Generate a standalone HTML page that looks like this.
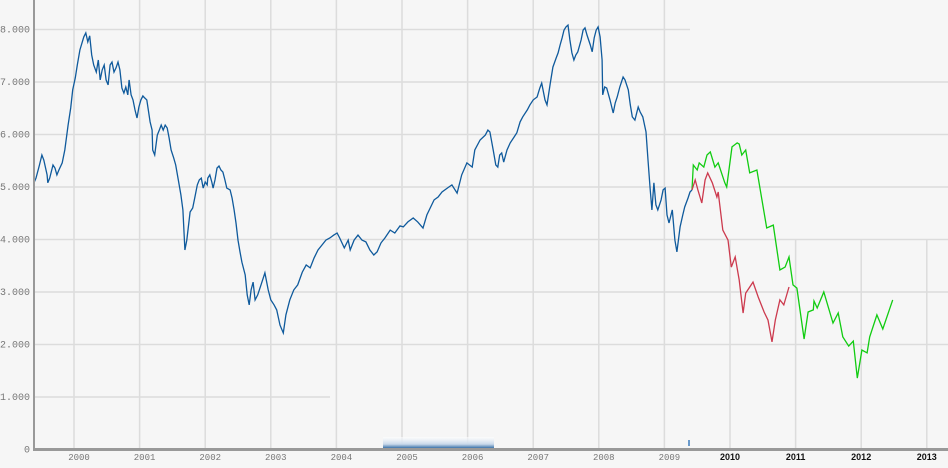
<!DOCTYPE html>
<html><head><meta charset="utf-8">
<style>
html,body{margin:0;padding:0;background:#f6f6f6;}
svg{display:block;}
.yl{font-family:"Liberation Mono",monospace;font-size:10px;fill:#777;}
.xl{font-family:"Liberation Mono",monospace;font-size:9px;fill:#777;}
.xb{font-family:"Liberation Sans",sans-serif;font-size:9px;font-weight:bold;fill:#111;}
</style></head>
<body>
<svg id="chart" width="948" height="468" viewBox="0 0 948 468">
<defs><linearGradient id="bg" x1="0" y1="0" x2="0" y2="1"><stop offset="0" stop-color="#ffffff" stop-opacity="0.6"/><stop offset="0.6" stop-color="#c8d8ea" stop-opacity="1"/><stop offset="1" stop-color="#1a5a9a" stop-opacity="1"/></linearGradient></defs>
<rect x="0" y="0" width="948" height="468" fill="#f6f6f6"/>
<g id="grid"></g>
<g id="labels"></g>
<rect x="383" y="437" width="111" height="12" fill="url(#bg)"/>
<rect x="688" y="440" width="2" height="6" fill="#6a9acb"/>
<g id="series"></g>
<line x1="34" y1="0" x2="34" y2="450" stroke="#999" stroke-width="2"/>
<line x1="33" y1="449.5" x2="948" y2="449.5" stroke="#999" stroke-width="3"/>
</svg>
<script>
const yTicks=[0,1000,2000,3000,4000,5000,6000,7000,8000];
const yTickLabels=["0","1.000","2.000","3.000","4.000","5.000","6.000","7.000","8.000"];
const xTicks=[2000,2001,2002,2003,2004,2005,2006,2007,2008,2009,2010,2011,2012,2013];
const blueYears=[1999.39,1999.42,1999.47,1999.51,1999.54,1999.59,1999.60,1999.63,1999.68,1999.71,1999.74,1999.77,1999.82,1999.86,1999.91,1999.95,1999.98,2000.02,2000.05,2000.09,2000.15,2000.18,2000.21,2000.24,2000.27,2000.30,2000.34,2000.37,2000.40,2000.43,2000.46,2000.49,2000.52,2000.55,2000.58,2000.61,2000.64,2000.67,2000.70,2000.73,2000.76,2000.79,2000.82,2000.84,2000.87,2000.90,2000.93,2000.96,2000.99,2001.02,2001.05,2001.08,2001.11,2001.16,2001.19,2001.20,2001.23,2001.27,2001.30,2001.33,2001.36,2001.39,2001.42,2001.45,2001.48,2001.52,2001.55,2001.59,2001.63,2001.66,2001.69,2001.72,2001.77,2001.81,2001.84,2001.88,2001.91,2001.94,2001.97,2002.00,2002.03,2002.04,2002.07,2002.10,2002.12,2002.15,2002.18,2002.21,2002.24,2002.27,2002.30,2002.33,2002.38,2002.41,2002.44,2002.47,2002.50,2002.53,2002.56,2002.61,2002.64,2002.67,2002.70,2002.73,2002.76,2002.80,2002.85,2002.91,2002.96,2003.00,2003.05,2003.09,2003.14,2003.19,2003.23,2003.29,2003.35,2003.41,2003.48,2003.54,2003.60,2003.66,2003.72,2003.78,2003.84,2003.90,2003.96,2004.01,2004.05,2004.12,2004.18,2004.21,2004.27,2004.33,2004.39,2004.45,2004.51,2004.57,2004.62,2004.68,2004.74,2004.82,2004.89,2004.97,2005.02,2005.09,2005.17,2005.24,2005.32,2005.38,2005.43,2005.49,2005.55,2005.61,2005.69,2005.76,2005.84,2005.91,2005.99,2006.07,2006.11,2006.19,2006.27,2006.31,2006.34,2006.39,2006.43,2006.46,2006.49,2006.52,2006.55,2006.60,2006.65,2006.71,2006.75,2006.80,2006.84,2006.91,2006.95,2007.00,2007.06,2007.10,2007.13,2007.18,2007.21,2007.26,2007.30,2007.35,2007.38,2007.41,2007.44,2007.47,2007.50,2007.53,2007.56,2007.59,2007.62,2007.65,2007.68,2007.73,2007.76,2007.79,2007.82,2007.87,2007.90,2007.93,2007.96,2007.99,2008.02,2008.05,2008.06,2008.09,2008.12,2008.17,2008.22,2008.25,2008.28,2008.32,2008.37,2008.40,2008.45,2008.48,2008.51,2008.55,2008.60,2008.63,2008.67,2008.72,2008.75,2008.78,2008.81,2008.84,2008.87,2008.90,2008.95,2008.98,2009.01,2009.04,2009.07,2009.12,2009.16,2009.19,2009.24,2009.28,2009.31,2009.36,2009.39,2009.42];
const blueValues=[5070,5160,5390,5600,5505,5220,5070,5160,5410,5350,5220,5315,5450,5695,6170,6495,6840,7070,7315,7600,7850,7925,7755,7870,7505,7315,7180,7410,7030,7220,7315,7030,6935,7315,7370,7180,7260,7370,7220,6875,6780,6895,6745,7030,6745,6650,6460,6305,6515,6650,6725,6685,6650,6230,6075,5695,5600,5980,6075,6170,6075,6170,6115,5925,5695,5545,5410,5125,4840,4555,3790,3980,4515,4590,4780,5030,5125,5160,4970,5085,5030,5160,5220,5085,4970,5125,5350,5390,5315,5275,5125,4970,4935,4780,4555,4305,3980,3755,3560,3315,2935,2745,3030,3180,2840,2935,3125,3355,3030,2840,2745,2650,2360,2210,2555,2840,3030,3125,3370,3505,3450,3640,3790,3885,3980,4020,4075,4115,4020,3830,3980,3790,3980,4075,3980,3945,3790,3695,3755,3925,4020,4170,4115,4250,4230,4325,4400,4325,4210,4460,4590,4745,4800,4895,4970,5030,4875,5220,5450,5370,5695,5885,5980,6075,6040,5695,5410,5370,5600,5640,5465,5695,5830,5945,6020,6230,6325,6460,6555,6650,6705,6875,6970,6650,6555,6970,7275,7450,7545,7695,7830,7980,8040,8075,7790,7545,7410,7505,7565,7790,7980,8020,7885,7695,7565,7830,7980,8040,7850,7410,6745,6895,6875,6650,6400,6590,6705,6895,7085,7030,6840,6555,6325,6265,6515,6420,6325,6040,5505,4990,4555,5070,4650,4555,4745,4935,4970,4460,4305,4555,3980,3755,4230,4460,4610,4780,4895,4935];
const greenYears=[2009.42,2009.44,2009.50,2009.53,2009.60,2009.65,2009.70,2009.77,2009.82,2009.92,2009.95,2010.03,2010.11,2010.14,2010.18,2010.24,2010.30,2010.41,2010.56,2010.66,2010.76,2010.84,2010.90,2010.96,2011.02,2011.13,2011.19,2011.27,2011.28,2011.33,2011.43,2011.57,2011.65,2011.72,2011.81,2011.88,2011.94,2012.01,2012.09,2012.13,2012.24,2012.33,2012.48];
const greenValues=[4935,5410,5315,5450,5370,5600,5660,5370,5450,5070,4990,5755,5830,5810,5600,5695,5260,5315,4210,4265,3410,3465,3660,3125,3065,2095,2610,2650,2820,2685,2990,2400,2590,2135,1960,2055,1350,1885,1830,2135,2555,2285,2840];
const redYears=[2009.42,2009.47,2009.51,2009.57,2009.62,2009.66,2009.73,2009.80,2009.82,2009.89,2009.97,2010.02,2010.08,2010.14,2010.20,2010.24,2010.35,2010.43,2010.52,2010.58,2010.64,2010.69,2010.76,2010.82,2010.90];
const redValues=[4935,5125,4935,4685,5125,5260,5070,4800,4895,4170,3980,3465,3660,3220,2590,2970,3180,2895,2610,2455,2040,2455,2840,2745,3085];

const NS="http://www.w3.org/2000/svg";
function xScale(yr){return 74+(yr-2000)*65.6;}
function yScale(v){return 449-v*0.0525;}
function mk(tag,attrs,parent){const e=document.createElementNS(NS,tag);for(const k in attrs)e.setAttribute(k,attrs[k]);parent.appendChild(e);return e;}
const grid=document.getElementById('grid'),labels=document.getElementById('labels'),series=document.getElementById('series');

yTicks.forEach((v,i)=>{
  if(v===0)return;
  let x2=948;
  if(v===8000)x2=690;
  if(v===1000)x2=330;
  const l=mk('line',{x1:34,x2:x2,y1:yScale(v)+0.5,y2:yScale(v)+0.5,stroke:'#dcdcdc','stroke-width':1.5},grid);
  
  
});
yTicks.forEach((v,i)=>{
  const t=mk('text',{x:30,y:yScale(v)+3.5,'text-anchor':'end',class:'yl'},labels);
  t.textContent=yTickLabels[i];
  
  
});
xTicks.forEach(yr=>{
  const x=xScale(yr);
  const bold=yr>=2010;
  const l=mk('line',{x1:x,x2:x,y1:bold?240:0,y2:449,stroke:'#dcdcdc','stroke-width':1.5},grid);
  
  
  const t=mk('text',{x:bold?x:x+5,y:460,'text-anchor':'middle',class:bold?'xb':'xl'},labels);
  t.textContent=String(yr);
  
  
});
function line(years,vals,color,name){
  const d=years.map((y,i)=>(i?'L':'M')+xScale(y).toFixed(1)+','+yScale(vals[i]).toFixed(1)).join('');
  const p=mk('path',{d:d,fill:'none',stroke:color,'stroke-width':1.3,'stroke-linejoin':'miter'},series);
  
  
}
line(greenYears,greenValues,'#11cc11','green-series-line');
line(redYears,redValues,'#cc3a4e','red-series-line');
line(blueYears,blueValues,'#0f5a9c','blue-series-line');
</script>
</body></html>
